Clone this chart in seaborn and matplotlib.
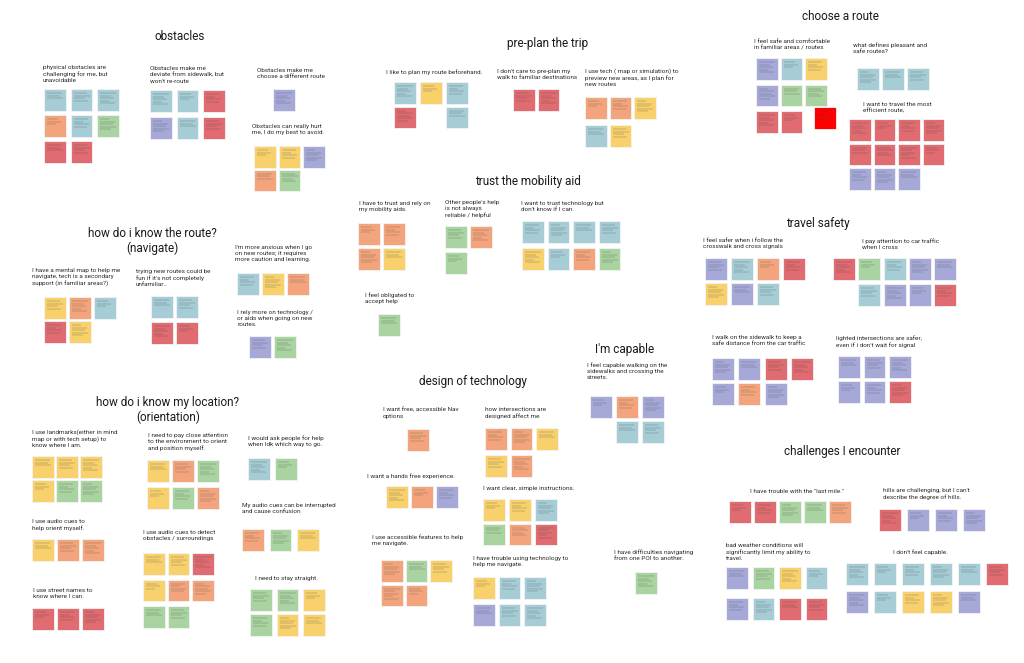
import matplotlib
matplotlib.use("Agg")
import matplotlib.pyplot as plt
import pandas as pd
import numpy as np
import seaborn as sns

# sticky note colours
palette = {
    "B": "#a6ccd6",  # blue
    "O": "#f3a47c",  # orange
    "R": "#e06b70",  # red
    "Y": "#f8d16c",  # yellow
    "G": "#a9d3a1",  # green
    "P": "#a6a9d7",  # purple
    "X": "#ff0000",  # bright red
}

# section titles: text, centre x, centre y
titles = [
    ("obstacles", 180, 36),
    ("pre-plan the trip", 548, 43),
    ("choose a route", 840, 17),
    ("trust the mobility aid", 528, 181),
    ("how do i know the route?\n(navigate)", 152, 241),
    ("travel safety", 818, 223),
    ("I'm capable", 625, 350),
    ("design of technology", 473, 381),
    ("how do i know my location?\n(orientation)", 168, 410),
    ("challenges I encounter", 842, 452),
]

# clusters: header, header x/y, first note x/y, rows of note colours, col step, row step, align
clusters = [
    ("physical obstacles are\nchallenging for me, but\nunavoidable", 43, 65, 44, 89, ["BBB", "OBG", "RR"], 26.5, 26, "left"),
    ("Obstacles make me\ndeviate from sidewalk, but\nwon't re-route", 150, 66, 150, 90, ["BBR", "PBR"], 26.5, 27, "left"),
    ("Obstacles make me\nchoose a different route", 257, 68, 273, 89, ["P"], 25, 25, "left"),
    ("Obstacles can really hurt\nme, I do my best to avoid.", 252, 124, 254, 146, ["YYP", "OG"], 24.5, 23.5, "left"),
    ("I like to plan my route beforehand.", 386, 69, 394, 82, ["BYB", "R.B"], 26, 24.5, "left"),
    ("I don't care to pre-plan my\nwalk to familiar destinations", 497, 69, 513, 89, ["RR"], 24.5, 25, "left"),
    ("I use tech ( map or simulation) to\npreview new areas, as I plan for\nnew routes", 585, 68, 585, 97, ["OOY", "BY"], 24.5, 28, "left"),
    ("I feel safe and comfortable\nin familiar areas / routes", 754, 39, 756, 58, ["PBY", "PGG", "RR"], 24.5, 26.5, "left"),
    ("", 0, 0, 814, 107, ["X"], 25, 25, "left"),
    ("what defines pleasant and\nsafe routes?", 853, 42, 857, 68, ["BBB"], 25, 25, "left"),
    ("I want to travel the most\nefficient route,", 863, 102, 849, 119, ["RRRR", "RRRR", "PPP"], 24.5, 24.5, "left"),
    ("I have a mental map to help me\nnavigate, tech is a secondary\nsupport (in familiar areas?)", 32, 268, 44, 297, ["YOB", "RY"], 25, 24, "left"),
    ("trying new routes could be\nfun if it's not completely\nunfamiliar..", 136, 269, 151, 296, ["BB", "RR"], 25, 26, "left"),
    ("I'm more anxious when I go\non new routes; it requires\nmore caution and learning.", 235, 245, 237, 273, ["BYO"], 25, 25, "left"),
    ("I rely more on technology /\nor aids when going on new\nroutes.", 237, 310, 249, 336, ["PG"], 25, 25, "left"),
    ("I have to trust and rely on\nmy mobility aids.", 359, 201, 358, 223, ["OO", "OY"], 25, 25, "left"),
    ("Other people's help\nis not always\nreliable / helpful", 445, 200, 445, 226, ["GO", "G"], 25, 26, "left"),
    ("I want to trust technology but\ndon't know if I can.", 521, 201, 522, 221, ["BBBB", "YBOG"], 25.5, 27, "left"),
    ("I feel obligated to\naccept help", 365, 292, 378, 314, ["G"], 25, 25, "left"),
    ("I feel safer when i follow the\ncrosswalk and cross signals", 703, 238, 705, 258, ["PBOR", "YPB"], 26, 25, "left"),
    ("I pay attention to car traffic\nwhen I cross", 862, 238, 833, 258, ["RGBPP", ".BPPR"], 25.3, 26, "left"),
    ("I walk on the sidewalk to keep a\nsafe distance from the car traffic", 712, 335, 712, 358, ["PPRR", "POP"], 26.3, 25, "left"),
    ("lighted intersections are safer,\neven if i don't wait for signal", 836, 335, 838, 356, ["PPP", "PPR"], 25.5, 25, "left"),
    ("I use landmarks(either in mind\nmap or with tech setup) to\nknow where I am.", 32, 429, 32, 456, ["YYY", "YGG"], 24, 24, "left"),
    ("I use audio cues to\nhelp orient myself.", 32, 519, 32, 539, ["YOO"], 25, 25, "left"),
    ("I use street names to\nknow where I can.", 33, 588, 32, 608, ["RRR"], 25, 25, "left"),
    ("I need to pay close attention\nto the environment to orient\nand position myself.", 148, 433, 147, 460, ["YOG", "YGO"], 25, 27, "left"),
    ("I use audio cues to detect\nobstacles / surroundings", 143, 530, 143, 553, ["YYR", "YOO", "GG"], 24.5, 26.5, "left"),
    ("I would ask people for help\nwhen Idk which way to go.", 248, 435, 248, 458, ["BG"], 27, 25, "left"),
    ("My audio cues can be interrupted\nand cause confusion", 242, 503, 242, 529, ["OGY"], 27.5, 25, "left"),
    ("I need to stay straight.", 255, 576, 250, 589, ["GGY", "GYY"], 26.5, 25, "left"),
    ("I want free, accessible Nav\noptions", 383, 408, 407, 429, ["O"], 25, 25, "left"),
    ("I want a hands free experience.", 367, 473, 386, 486, ["YOP"], 25, 25, "left"),
    ("I use accessible features to help\nme navigate.", 372, 534, 381, 560, ["OGY", "OO"], 24.5, 24.5, "left"),
    ("how intersections are\ndesigned affect me", 485, 407, 485, 428, ["OOY", "YO"], 25.5, 27, "left"),
    ("I want clear, simple instructions.", 483, 486, 483, 499, ["YYB", "GOR"], 26, 24.5, "left"),
    ("I have trouble using technology to\nhelp me navigate.", 473, 556, 473, 577, ["YBB", "PBB"], 25.5, 27, "left"),
    ("I feel capable walking on the\nsidewalks and crossing the\nstreets.", 587, 362, 590, 396, ["POP", ".BB"], 26, 25, "left"),
    ("I have difficulties navigating\nfrom one POI to another.", 614, 549, 635, 572, ["G"], 25, 25, "left"),
    ("I have trouble with the \"last mile.\"", 797, 489, 729, 501, ["RRGGO"], 25, 25, "center"),
    ("hills are challenging, but I can't\ndescribe the degree of hills.", 883, 488, 879, 509, ["RPPP"], 28, 25, "left"),
    ("bad weather conditions will\nsignificantly limit my ability to\ntravel.", 726, 543, 726, 567, ["PGYB", "PBRR"], 26.5, 31, "left"),
    ("I don't feel capable.", 920, 549, 846, 563, ["BBBBBR", "PBYYP"], 28, 28, "center"),
]

# build note table
rows_out = []
for header, hx, hy, nx, ny, rows, sx, sy, align in clusters:
    for r, row in enumerate(rows):
        for c, key in enumerate(row):
            if key == ".":
                continue
            rows_out.append({"x": nx + c * sx + 11, "y": ny + r * sy + 11, "c": key})
notes = pd.DataFrame(rows_out)

sns.set_theme(style="white")
plt.rcParams["font.family"] = ["Roboto", "DejaVu Sans"]

fig = plt.figure(figsize=(10.24, 6.63), dpi=100)
ax = fig.add_axes([0, 0, 1, 1])
ax.set_xlim(0, 1024)
ax.set_ylim(663, 0)
ax.axis("off")

sns.scatterplot(data=notes, x="x", y="y", hue="c", palette=palette, marker="s",
                s=250, edgecolor="#f4f4f4", linewidth=0.6, legend=False, ax=ax, zorder=2)

# scribbles standing in for the unreadable note text
widths = [15, 13, 16, 11, 14, 9]
for i, (x, y) in enumerate(zip(notes["x"], notes["y"])):
    n = 3 + i % 3
    for k in range(n):
        w = widths[(i + k) % len(widths)]
        ax.hlines(y - 7 + k * 2.6, x - 8, x - 8 + w, color="#3a3a3a", lw=0.35, alpha=0.5, zorder=3)

for header, hx, hy, nx, ny, rows, sx, sy, align in clusters:
    if header:
        ax.text(hx, hy, header, ha=align, va="top", fontsize=4.6, color="#2b2b2b",
                linespacing=1.3, zorder=4)

for t, x, y in titles:
    ax.text(x, y, t, ha="center", va="center", fontsize=8.5, color="#1a1a1a",
            linespacing=1.15, zorder=4)

fig.savefig("out.png", dpi=100, facecolor="white")
